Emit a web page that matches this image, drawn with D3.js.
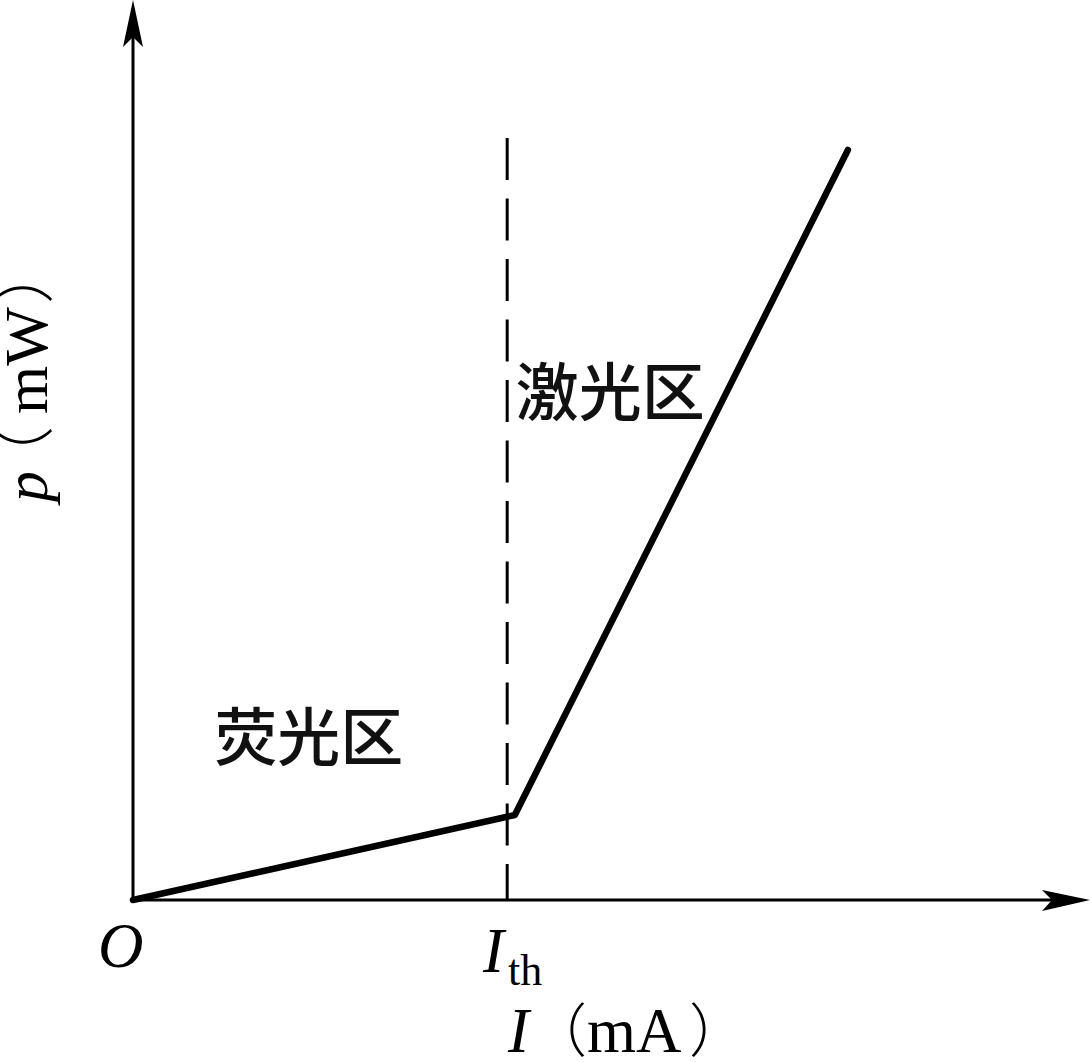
<!DOCTYPE html>
<html><head><meta charset="utf-8">
<script src="https://cdn.jsdelivr.net/npm/d3@7"></script>
<style>html,body{margin:0;padding:0;background:#fff;overflow:hidden}</style>
</head><body>
<script>
// Data (arbitrary units: current in mA, power in mW)
const currentI = [0, 3.99, 7.47];
const powerP = [0, 0.85, 7.5];
const thresholdI = 3.91;
const thresholdTop = 7.62;
const regionLabels = ["荧光区", "激光区"];
const regionPos = [[0.85, 1.4], [4.0, 4.85]];
const xDomain = [0, 10];
const yDomain = [0, 9];

const W = 1092, H = 1062;
const svg = d3.select("body").append("svg").attr("width", W).attr("height", H);
const x = d3.scaleLinear().domain(xDomain).range([133, 1090]);
const y = d3.scaleLinear().domain(yDomain).range([900, 0]);

// axes
svg.append("line").attr("x1", x(0)).attr("y1", y(0)).attr("x2", x(10) - 20).attr("y2", y(0))
  .attr("stroke", "#000").attr("stroke-width", 3);
svg.append("line").attr("x1", x(0)).attr("y1", y(0)).attr("x2", x(0)).attr("y2", y(9) + 20)
  .attr("stroke", "#000").attr("stroke-width", 3);
// arrowheads
const xe = x(10), ye = y(0);
svg.append("path").attr("d", `M${xe},${ye} L${xe-48},${ye-10} L${xe-38},${ye} L${xe-48},${ye+11} Z`).attr("fill", "#000");
const xt = x(0), yt = y(9);
svg.append("path").attr("d", `M${xt},${yt} L${xt-10},${yt+47} L${xt},${yt+37} L${xt+10},${yt+47} Z`).attr("fill", "#000");

// dashed threshold line
svg.append("line").attr("x1", x(thresholdI)).attr("x2", x(thresholdI))
  .attr("y1", y(thresholdTop)).attr("y2", y(0))
  .attr("stroke", "#000").attr("stroke-width", 3).attr("stroke-dasharray", "42,18.5");

// curve
const pts = currentI.map((d, i) => [d, powerP[i]]);
svg.append("path").datum(pts)
  .attr("d", d3.line().x(d => x(d[0])).y(d => y(d[1])))
  .attr("fill", "none").attr("stroke", "#000").attr("stroke-width", 6.5)
  .attr("stroke-linejoin", "round").attr("stroke-linecap", "round");

// region labels
regionLabels.forEach((t, i) => {
  svg.append("text").attr("x", x(regionPos[i][0])).attr("y", y(regionPos[i][1]))
    .attr("font-family", "'Noto Sans CJK SC'").attr("font-size", 63).attr("font-weight", 500)
    .attr("fill", "#111").text(t);
});

const serif = "'Liberation Serif','DejaVu Serif',serif";
const cjk = "'Noto Sans CJK SC'";
// origin
svg.append("text").attr("x", 98).attr("y", 967).attr("font-family", serif)
  .attr("font-style", "italic").attr("font-size", 63).text("O");
// I_th
const ith = svg.append("text").attr("x", 483).attr("y", 972).attr("font-family", serif).attr("font-size", 63);
ith.append("tspan").attr("font-style", "italic").text("I");
ith.append("tspan").attr("font-size", 44).attr("dx", 4).attr("dy", 13).text("th");
// x axis label
const xl = svg.append("text").attr("y", 1052).attr("font-family", serif).attr("font-size", 63);
xl.append("tspan").attr("x", 508).attr("font-style", "italic").text("I");
xl.append("tspan").attr("x", 529).attr("font-family", cjk).attr("font-size", 58).attr("font-weight", 300).text("（");
xl.append("tspan").attr("x", 587).text("mA");
xl.append("tspan").attr("x", 689).attr("font-family", cjk).attr("font-size", 58).attr("font-weight", 300).text("）");
// y axis label
const yl = svg.append("text").attr("transform", "translate(47,502) rotate(-90)")
  .attr("font-family", serif).attr("font-size", 62);
yl.append("tspan").attr("x", 0).attr("font-style", "italic").text("p");
yl.append("tspan").attr("x", 14).attr("font-family", cjk).attr("font-weight", 300).text("（");
yl.append("tspan").attr("x", 88).text("mW");
yl.append("tspan").attr("x", 198).attr("font-family", cjk).attr("font-weight", 300).text("）");
</script>
</body></html>
